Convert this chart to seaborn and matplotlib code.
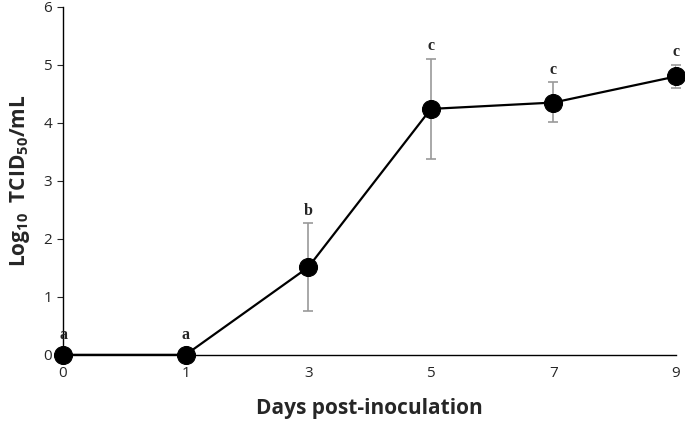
import numpy as np
import pandas as pd
import matplotlib.pyplot as plt
import seaborn as sns

days = ['0', '1', '3', '5', '7', '9']
titer = [0.0, 0.0, 1.51, 4.24, 4.35, 4.80]
err_low = [0.0, 0.0, 0.76, 0.86, 0.33, 0.20]
err_high = [0.0, 0.0, 0.76, 0.86, 0.35, 0.20]
letters = ['a', 'a', 'b', 'c', 'c', 'c']

df = pd.DataFrame({'day': days, 'titer': titer})
xpos = np.arange(len(days))

sns.set_style('white')
plt.rcParams['font.family'] = ['Open Sans', 'DejaVu Sans']
plt.rcParams['mathtext.fontset'] = 'custom'
plt.rcParams['mathtext.rm'] = 'Open Sans'
plt.rcParams['mathtext.bf'] = 'Open Sans:bold'

fig = plt.figure(figsize=(6.85, 4.28), dpi=100)
ax = fig.add_axes([0.092, 0.171, 0.895, 0.813])

# grey error bars drawn under the line
ax.errorbar(xpos, titer, yerr=[err_low, err_high], fmt='none', ecolor='#999999',
            elinewidth=1.2, capsize=3.5, capthick=1.2, zorder=1)
sns.lineplot(data=df, x='day', y='titer', sort=False, color='black', linewidth=1.6,
             marker='o', markersize=13, markeredgecolor='black', ax=ax, zorder=3)
for line in ax.lines:
    line.set_clip_on(False)

# significance letters above each bar
for x, y, hi, t in zip(xpos, titer, err_high, letters):
    off = 0.08 if hi > 0 else 0.2
    ax.text(x, y + hi + off, t, ha='center', va='bottom', fontsize=11.5,
            fontweight='bold', family='Liberation Serif', zorder=4)

ax.set_xlim(0, len(days) - 1)
ax.set_ylim(0, 6)
ax.set_yticks(range(7))
ax.set_xticks(xpos)
ax.set_xticklabels(days)
ax.tick_params(axis='y', direction='out', length=4, width=0.8, left=True, labelsize=11, pad=4)
ax.tick_params(axis='x', length=0, labelsize=11, pad=8)
sns.despine(ax=ax)
for s in ['left', 'bottom']:
    ax.spines[s].set_color('black')
    ax.spines[s].set_linewidth(1.0)

ax.set_xlabel('Days post-inoculation', fontsize=15, fontweight='bold', labelpad=12)
ax.set_ylabel(r'Log$_{\mathbf{10}}$  TCID$_{\mathbf{50}}$/mL', fontsize=15, fontweight='bold', labelpad=8)

fig.savefig('out.png', dpi=100)
